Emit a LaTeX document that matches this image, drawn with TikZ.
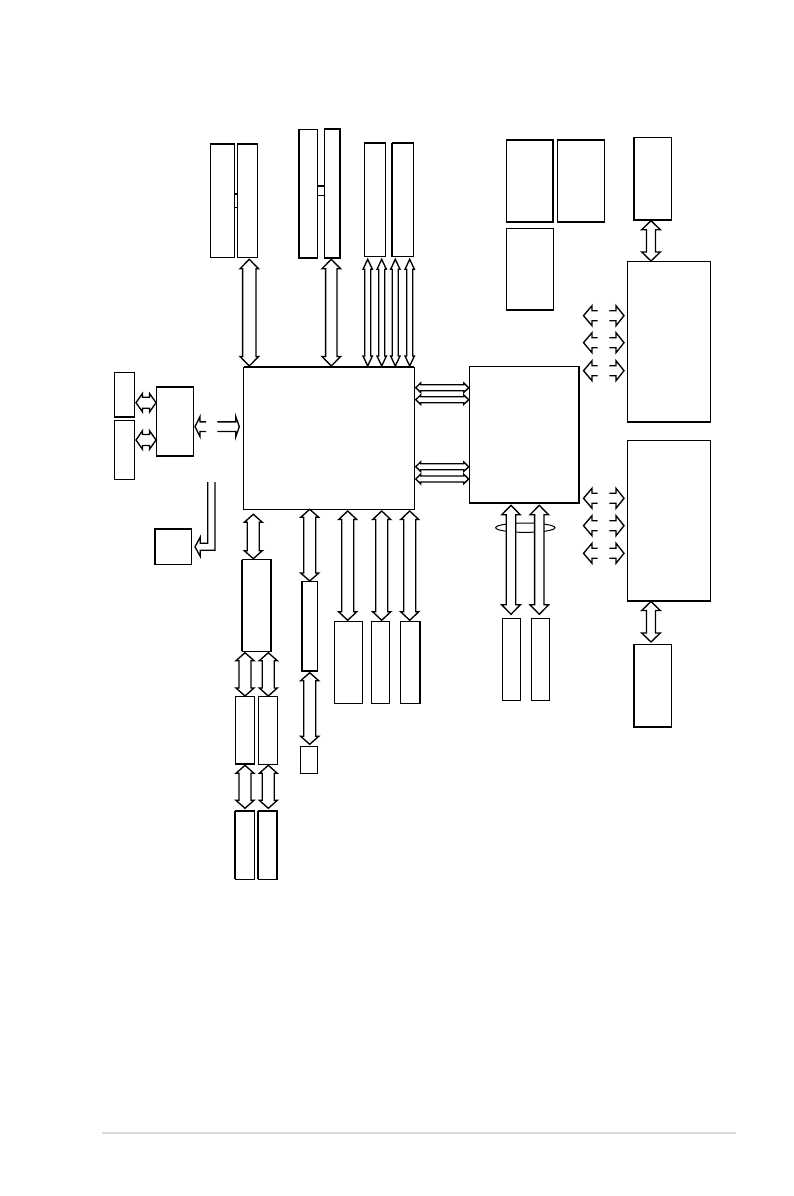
\documentclass[tikz,border=0pt]{standalone}
\usetikzlibrary{calc,shapes.geometric}
\tikzset{
  boxn/.style={draw=black,line width=1pt,fill=white,inner sep=0pt,outer sep=0pt,rectangle},
  edge/.style={line width=1.8pt,line cap=butt},
  conn/.style={draw=black,line width=1.35pt,fill=white,line join=miter},
  halfconn/.style={draw=black,line width=1.35pt,line join=miter}
}
% box by its corners
\newcommand\bx[5]{%
  \pgfmathsetmacro\bxw{#4-#2}\pgfmathsetmacro\bxh{#5-#3}%
  \pgfmathsetmacro\cxx{(#2+#4)/2}\pgfmathsetmacro\cyy{(#3+#5)/2}%
  \node[boxn,minimum width=\bxw pt,minimum height=\bxh pt] (#1) at (\cxx,\cyy) {};}
% thick sides of a box
\newcommand\thk[3]{\draw[edge] (#1.#2) -- (#1.#3);}
% two-headed hollow arrow: name, end A, end B, shaft half width, head half width, head length
\newcommand\bia[6]{%
  \coordinate (#1a) at (#2);\coordinate (#1b) at (#3);
  \draw[conn] (#1a)
    -- ($(#1a)!#6pt!(#1b)!#5pt!90:(#1b)$)
    -- ($(#1a)!#6pt!(#1b)!#4pt!90:(#1b)$)
    -- ($(#1b)!#6pt!(#1a)!#4pt!-90:(#1a)$)
    -- ($(#1b)!#6pt!(#1a)!#5pt!-90:(#1a)$)
    -- (#1b)
    -- ($(#1b)!#6pt!(#1a)!#5pt!90:(#1a)$)
    -- ($(#1b)!#6pt!(#1a)!#4pt!90:(#1a)$)
    -- ($(#1a)!#6pt!(#1b)!#4pt!-90:(#1b)$)
    -- ($(#1a)!#6pt!(#1b)!#5pt!-90:(#1b)$)
    -- cycle;}
% open-ended hollow arrow: name, tip, tail, shaft half width, head half width, head length
\newcommand\hal[6]{%
  \coordinate (#1a) at (#2);\coordinate (#1b) at (#3);
  \draw[halfconn] ($(#1b)!#4pt!-90:(#1a)$)
    -- ($(#1a)!#6pt!(#1b)!#4pt!90:(#1b)$)
    -- ($(#1a)!#6pt!(#1b)!#5pt!90:(#1b)$)
    -- (#1a)
    -- ($(#1a)!#6pt!(#1b)!#5pt!-90:(#1b)$)
    -- ($(#1a)!#6pt!(#1b)!#4pt!-90:(#1b)$)
    -- ($(#1b)!#4pt!90:(#1a)$);}
\begin{document}
\begin{tikzpicture}[x=1pt,y=-1pt]
\useasboundingbox[fill=white] (0,0) rectangle (794,1196);

% small links between paired boxes
\bx{lkA}{234.7}{193.7}{237.3}{207.7}
\bx{lkB}{317.3}{186}{324.7}{195.7}
\thk{lkB}{north west}{north east}
\thk{lkA}{north west}{north east}

% top row
\bx{a1}{210}{143.7}{234.7}{257.3}\thk{a1}{north west}{north east}
\bx{a2}{237.3}{143.7}{257.3}{257.3}\thk{a2}{north west}{north east}
\bx{b1}{298.7}{129.3}{317.3}{258}\thk{b1}{north west}{south west}\thk{b1}{south west}{south east}
\bx{b2}{324.7}{128.7}{340}{258}\thk{b2}{north west}{north east}\thk{b2}{north east}{south east}\thk{b2}{south west}{south east}
\bx{c1}{364.7}{142.7}{385.3}{256.7}\thk{c1}{north west}{north east}
\bx{c2}{392}{142.7}{413.3}{256.7}\thk{c2}{north west}{north east}\thk{c2}{north west}{south west}

% central chip
\bx{main}{243.7}{367}{414.3}{509.3}\thk{main}{north west}{north east}

\bia{ta}{249.3,366}{249.3,259.3}{6.7}{9.3}{9.5}
\bia{tb}{331.3,366}{331.3,259.3}{5.7}{9.3}{9.5}
\bia{tc}{367.7,366}{367.7,259.3}{3}{4.7}{10}
\bia{td}{381.7,366}{381.7,259.3}{3}{4.7}{10}
\bia{te}{395.3,366}{395.3,259.3}{3}{4.7}{10}
\bia{tf}{409.7,366}{409.7,259.3}{3}{4.7}{10}

% left group
\bx{d1}{114.3}{372.3}{134.7}{417}\thk{d1}{south west}{south east}
\bx{d2}{114.3}{420.3}{134.7}{479.3}
\bx{e}{156.7}{386.7}{193.7}{456}\thk{e}{north west}{north east}\thk{e}{south west}{south east}
\bx{f}{154.7}{528.7}{191.3}{564.3}\thk{f}{north west}{north east}\thk{f}{north west}{south west}
\bia{la}{136,402.7}{156,402.7}{5.5}{9.3}{6.5}
\bia{lb}{136,440}{156,440}{5.5}{9.3}{6.5}
\hal{lc}{195,426.7}{206,426.7}{4.8}{10}{5}
\hal{ld}{239.3,426.7}{217.3,426.7}{4.8}{10}{3.5}

% elbow arrow
\coordinate (ela) at (207.7,482);
\coordinate (elb) at (215,482);
\coordinate (eltip) at (195,546.8);
\draw[halfconn] (ela) -- (207.7,543.3) -- (200.3,543.3) -- (200.3,537) -- (eltip)
  -- (200.3,556.5) -- (200.3,550.3) -- (215,550.3) -- (elb);

% lower left chain
\bx{g}{242}{559.7}{271.3}{651.3}\thk{g}{north west}{south west}\thk{g}{north east}{south east}
\bx{h1}{235.3}{696.3}{254.3}{764}\thk{h1}{south west}{south east}
\bx{h2}{258.3}{696.3}{277.3}{764}
\bx{i1}{235.3}{810.7}{254.3}{879.3}\thk{i1}{north west}{north east}\thk{i1}{north west}{south west}
\bx{i2}{258.3}{810.7}{277.3}{879.3}\thk{i2}{north west}{north east}\thk{i2}{north west}{south west}\thk{i2}{north east}{south east}
\bia{ga}{253.3,514.3}{253.3,558.7}{6}{9}{8}
\bia{gb}{245,652.7}{245,696}{6}{9}{8}
\bia{gc}{268.3,652.7}{268.3,696}{6}{9}{8}
\bia{gd}{245,765.3}{245,808.3}{6}{9}{8}
\bia{ge}{268.3,765.3}{268.3,808.3}{6}{9}{8}

% lower middle
\bx{j}{301.7}{581.7}{317.7}{671.3}\thk{j}{north west}{south west}\thk{j}{south west}{south east}
\bx{k}{300.3}{746.3}{317.7}{773.3}
\bia{ja}{309.7,509.3}{309.7,581}{6}{9}{8}
\bia{jb}{309.7,672.7}{309.7,744.3}{6}{9}{8}
\bx{l1}{334.3}{621.3}{362.3}{703.3}
\bx{l2}{371.3}{621.3}{389.3}{703.3}
\bx{l3}{400.3}{621.3}{420.3}{703.3}\thk{l3}{north east}{south east}
\bia{lp}{347.7,511}{347.7,620.3}{6}{9}{8.5}
\bia{lq}{381.7,511}{381.7,620.3}{6}{9}{8.5}
\bia{lr}{409.7,511}{409.7,620.3}{6}{9}{8.5}

% second chip
\bx{m}{469.3}{366.3}{579.3}{503}\thk{m}{north east}{south east}\thk{m}{south west}{south east}
\bia{ma}{415.7,387.7}{468.7,387.7}{3}{4.8}{5}
\bia{mb}{415.7,399.7}{468.7,399.7}{3}{4.8}{5}
\bia{mc}{415.7,466.7}{468.7,466.7}{3}{4.8}{5}
\bia{md}{415.7,479}{468.7,479}{3}{4.8}{5}

% bottom slots with ring
\node[draw=black,line width=1pt,fill=white,ellipse,inner sep=0pt,minimum width=59.3pt,minimum height=9.3pt] (ring) at (525.3,527.7) {};
\bx{n1}{502.3}{618.3}{520.3}{700.7}
\bx{n2}{531.3}{618.3}{549.3}{700.7}
\bia{na}{511,505.3}{511,614.3}{4.7}{9.3}{9.5}
\bia{nb}{539.3,505.3}{539.3,614.3}{4.7}{9.3}{9.5}

% top-right blocks
\bx{s1}{506}{140}{553}{222}\thk{s1}{south west}{south east}\thk{s1}{north east}{south east}
\bx{s2}{557}{140}{604.5}{222}\thk{s2}{south west}{south east}\thk{s2}{north east}{south east}
\bx{s3}{506}{228}{553}{310}\thk{s3}{south west}{south east}

% right column
\bx{q}{633.7}{137.3}{671.7}{220}\thk{q}{south west}{south east}\thk{q}{north west}{south west}
\bx{p}{627.3}{261.3}{710}{422}\thk{p}{south west}{south east}
\bx{o}{627.3}{440.3}{710}{601}\thk{o}{south west}{south east}
\bx{r}{633.7}{644.5}{671.7}{727}\thk{r}{north west}{south west}\thk{r}{south west}{south east}
\bia{qa}{651,220.7}{651,261}{4.5}{9.3}{9}
\bia{qb}{651,601.5}{651,642}{4.5}{9.3}{9}

% open arrows beside the right column
\hal{u1l}{583.5,315.7}{597.7,315.7}{5}{10}{8.5}
\hal{u1r}{624,315.7}{609.3,315.7}{5}{10}{8}
\hal{u2l}{583.5,342.7}{597.7,342.7}{5}{10}{8.5}
\hal{u2r}{624,342.7}{609.3,342.7}{5}{10}{8}
\hal{u3l}{583.5,370.7}{597.7,370.7}{5}{10}{8.5}
\hal{u3r}{624,370.7}{609.3,370.7}{5}{10}{8}
\hal{v1l}{583.5,498.3}{597.7,498.3}{5}{10}{8.5}
\hal{v1r}{624,498.3}{609.3,498.3}{5}{10}{8}
\hal{v2l}{583.5,525.7}{597.7,525.7}{5}{10}{8.5}
\hal{v2r}{624,525.7}{609.3,525.7}{5}{10}{8}
\hal{v3l}{583.5,553.3}{597.7,553.3}{5}{10}{8.5}
\hal{v3r}{624,553.3}{609.3,553.3}{5}{10}{8}

% footer rule
\coordinate (fa) at (102,1133);
\coordinate (fb) at (736,1133);
\draw[line width=1.5pt,draw=black!14] (fa) -- (fb);
\end{tikzpicture}
\end{document}
